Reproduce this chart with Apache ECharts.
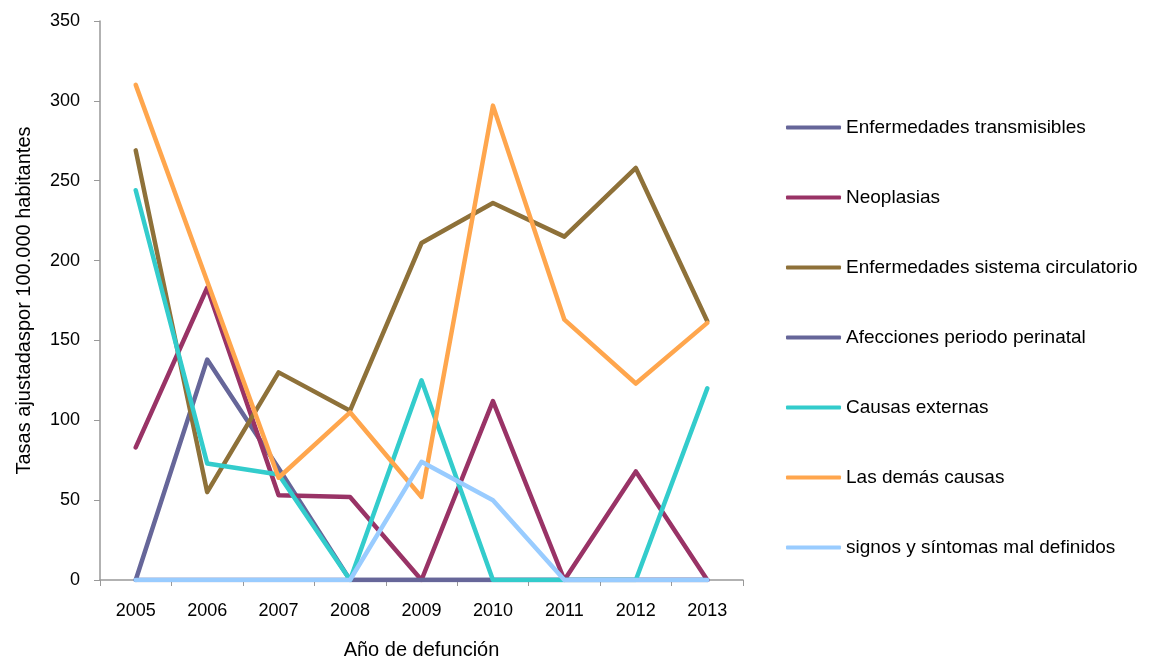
<!DOCTYPE html>
<html><head><meta charset="utf-8">
<script src="https://cdn.jsdelivr.net/npm/echarts@6/dist/echarts.min.js"></script>
<style>html,body{margin:0;padding:0;background:#fff}#c{width:1162px;height:656px}</style>
</head><body><div id="c"></div>
<script>
const years = ['2005','2006','2007','2008','2009','2010','2011','2012','2013'];
const seriesNames = ['Enfermedades transmisibles','Neoplasias','Enfermedades sistema circulatorio','Afecciones periodo perinatal','Causas externas','Las demás causas','signos y síntomas mal definidos'];
const transmisibles = [0,138,70,0,0,0,0,0,0];
const neoplasias = [83,183,53,52,0,112,0,68,0];
const circulatorio = [269,55,130,106,211,236,215,258,162];
const perinatal = [0,0,0,0,0,0,0,0,0];
const externas = [244,73,66,0,125,0,0,0,120];
const demas = [310,187,64,105,52,297,163,123,161];
const signos = [0,0,0,0,74,50,0,0,0];
const colors = ['#666699','#993366','#8E7139','#666699','#33CCCC','#FFA64D','#99CCFF'];
const yTicks = [0,50,100,150,200,250,300,350];

const FONT = "'Liberation Sans Narrow','Arial Narrow','Liberation Sans',Arial,sans-serif";
const allData = [transmisibles,neoplasias,circulatorio,perinatal,externas,demas,signos];
const chart = echarts.init(document.getElementById('c'), null, {renderer:'canvas'});
chart.setOption({
  animation:false,
  color: colors,
  grid:{left:100,right:419,top:21,bottom:76,containLabel:false,outerBoundsMode:'none'},
  legend:{
    orient:'vertical', left:781, top:113, itemGap:51, itemWidth:55, itemHeight:4,
    icon:'roundRect',
    textStyle:{fontFamily:FONT,fontSize:19,color:'#000',padding:[0,0,0,0]},
    data: seriesNames
  },
  xAxis:{
    type:'category', data:years, boundaryGap:true,
    name:'Año de defunción', nameLocation:'middle', nameGap:60,
    nameTextStyle:{fontFamily:FONT,fontSize:20,color:'#000'},
    axisLine:{lineStyle:{color:'#999',width:1.5}},
    axisTick:{show:true,alignWithLabel:false,length:6,lineStyle:{color:'#999'}},
    axisLabel:{fontFamily:FONT,fontSize:18,color:'#000',margin:22},
    splitLine:{show:false}
  },
  yAxis:{
    type:'value', min:yTicks[0], max:yTicks[yTicks.length-1], interval:50,
    name:'Tasas ajustadaspor 100.000 habitantes', nameLocation:'middle', nameGap:66,
    nameTextStyle:{fontFamily:FONT,fontSize:20,color:'#000'},
    axisLine:{show:true,lineStyle:{color:'#999',width:1.5}},
    axisTick:{show:true,length:6,lineStyle:{color:'#999'}},
    axisLabel:{fontFamily:FONT,fontSize:18,color:'#000',margin:20},
    splitLine:{show:false}
  },
  series: seriesNames.map((n,i)=>({
    name:n, type:'line', data:allData[i], symbol:'none', showSymbol:false,
    lineStyle:{width:4.5,color:colors[i],cap:'round',join:'round'},
    itemStyle:{color:colors[i]}
  }))
});
</script></body></html>
